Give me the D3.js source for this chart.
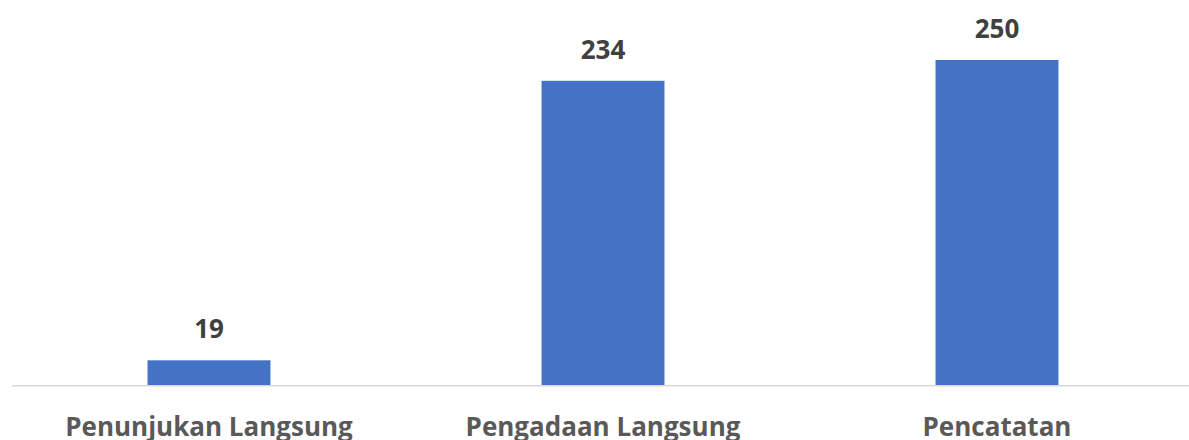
<!DOCTYPE html>
<html>
<head>
<meta charset="utf-8">
<script src="https://cdn.jsdelivr.net/npm/d3@7"></script>
<style>
  html, body { margin: 0; padding: 0; background: #fff; }
  svg { display: block; }
</style>
</head>
<body>
<div id="chart"></div>
<script>
// Data
const categories = ['Penunjukan Langsung', 'Pengadaan Langsung', 'Pencatatan'];
const values = [19, 234, 250];

const width = 1189, height = 440;

const svg = d3.select('#chart').append('svg')
  .attr('width', width)
  .attr('height', height);

const x = d3.scaleBand()
  .domain(categories)
  .range([12, 1194])
  .paddingInner(0.688)
  .paddingOuter(0.344);

const y = d3.scaleLinear()
  .domain([0, 250])
  .range([385, 60]);

// bars
svg.append('g')
  .selectAll('rect')
  .data(values)
  .join('rect')
  .attr('x', (d, i) => x(categories[i]))
  .attr('y', d => y(d))
  .attr('width', x.bandwidth())
  .attr('height', d => y(0) - y(d))
  .attr('fill', '#4472c4');

// baseline
svg.append('line')
  .attr('x1', 12).attr('x2', 1189)
  .attr('y1', y(0) + 0.7).attr('y2', y(0) + 0.7)
  .attr('stroke', '#d9d9d9')
  .attr('stroke-width', 1.4);

// value labels
svg.append('g')
  .selectAll('text')
  .data(values)
  .join('text')
  .attr('x', (d, i) => x(categories[i]) + x.bandwidth() / 2)
  .attr('y', d => y(d) - 22)
  .attr('text-anchor', 'middle')
  .attr('font-family', 'Open Sans, sans-serif')
  .attr('font-weight', 700)
  .attr('font-size', 26)
  .attr('fill', '#404040')
  .text(d => d);

// category labels
svg.append('g')
  .selectAll('text')
  .data(categories)
  .join('text')
  .attr('x', d => x(d) + x.bandwidth() / 2)
  .attr('y', 436)
  .attr('text-anchor', 'middle')
  .attr('font-family', 'Open Sans, sans-serif')
  .attr('font-weight', 700)
  .attr('font-size', 26)
  .attr('fill', '#595959')
  .text(d => d);
</script>
</body>
</html>
